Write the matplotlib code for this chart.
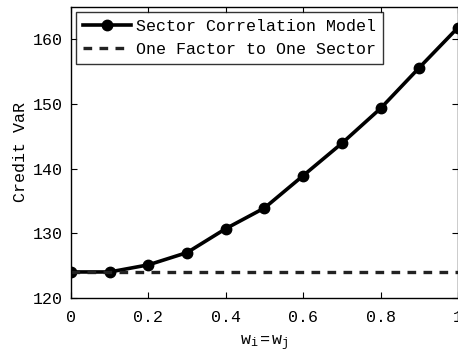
import matplotlib
matplotlib.use("Agg")
from matplotlib import pyplot as plt

# data
weights = [0.0, 0.1, 0.2, 0.3, 0.4, 0.5, 0.6, 0.7, 0.8, 0.9, 1.0]
sector_corr = [124.0, 124.0, 125.1, 127.0, 130.7, 133.9, 138.9, 143.9, 149.3, 155.6, 161.8]
one_factor = [124.0] * len(weights)

plt.rcParams['font.family'] = ['Liberation Mono', 'DejaVu Sans Mono']
plt.rcParams['mathtext.fontset'] = 'custom'
plt.rcParams['mathtext.rm'] = 'Liberation Mono'
plt.rcParams['mathtext.it'] = 'Liberation Mono'

fig = plt.figure(figsize=(4.58, 3.61), dpi=100)
ax = fig.add_axes([0.155, 0.175, 0.845, 0.806])

ax.plot(weights, sector_corr, color='black', lw=2.6, marker='o', ms=7.5,
        label='Sector Correlation Model')
ax.plot(weights, one_factor, color='#222222', lw=2.4, ls=(0, (2.6, 2.2)),
        label='One Factor to One Sector')

ax.set_xlim(0, 1)
ax.set_ylim(120, 165)
ax.set_xticks([0, 0.2, 0.4, 0.6, 0.8, 1])
ax.set_xticklabels(['0', '0.2', '0.4', '0.6', '0.8', '1'])
ax.set_yticks([120, 130, 140, 150, 160])
ax.tick_params(direction='in', top=True, right=True, labelsize=12, length=4)
ax.tick_params(axis='x', pad=9)
ax.tick_params(axis='y', pad=6)
for s in ax.spines.values():
    s.set_linewidth(1.0)

ax.set_xlabel(r'$\mathregular{w_i=w_j}$', fontsize=12, labelpad=6)
ax.set_ylabel('Credit VaR', fontsize=12, labelpad=3)

leg = ax.legend(loc='upper left', fontsize=12, frameon=True, fancybox=False,
                edgecolor='black', handlelength=2.9, handletextpad=0.3,
                borderaxespad=0.3, borderpad=0.4, labelspacing=0.5)
leg.get_frame().set_linewidth(1.0)

fig.savefig('out.png', dpi=100)
